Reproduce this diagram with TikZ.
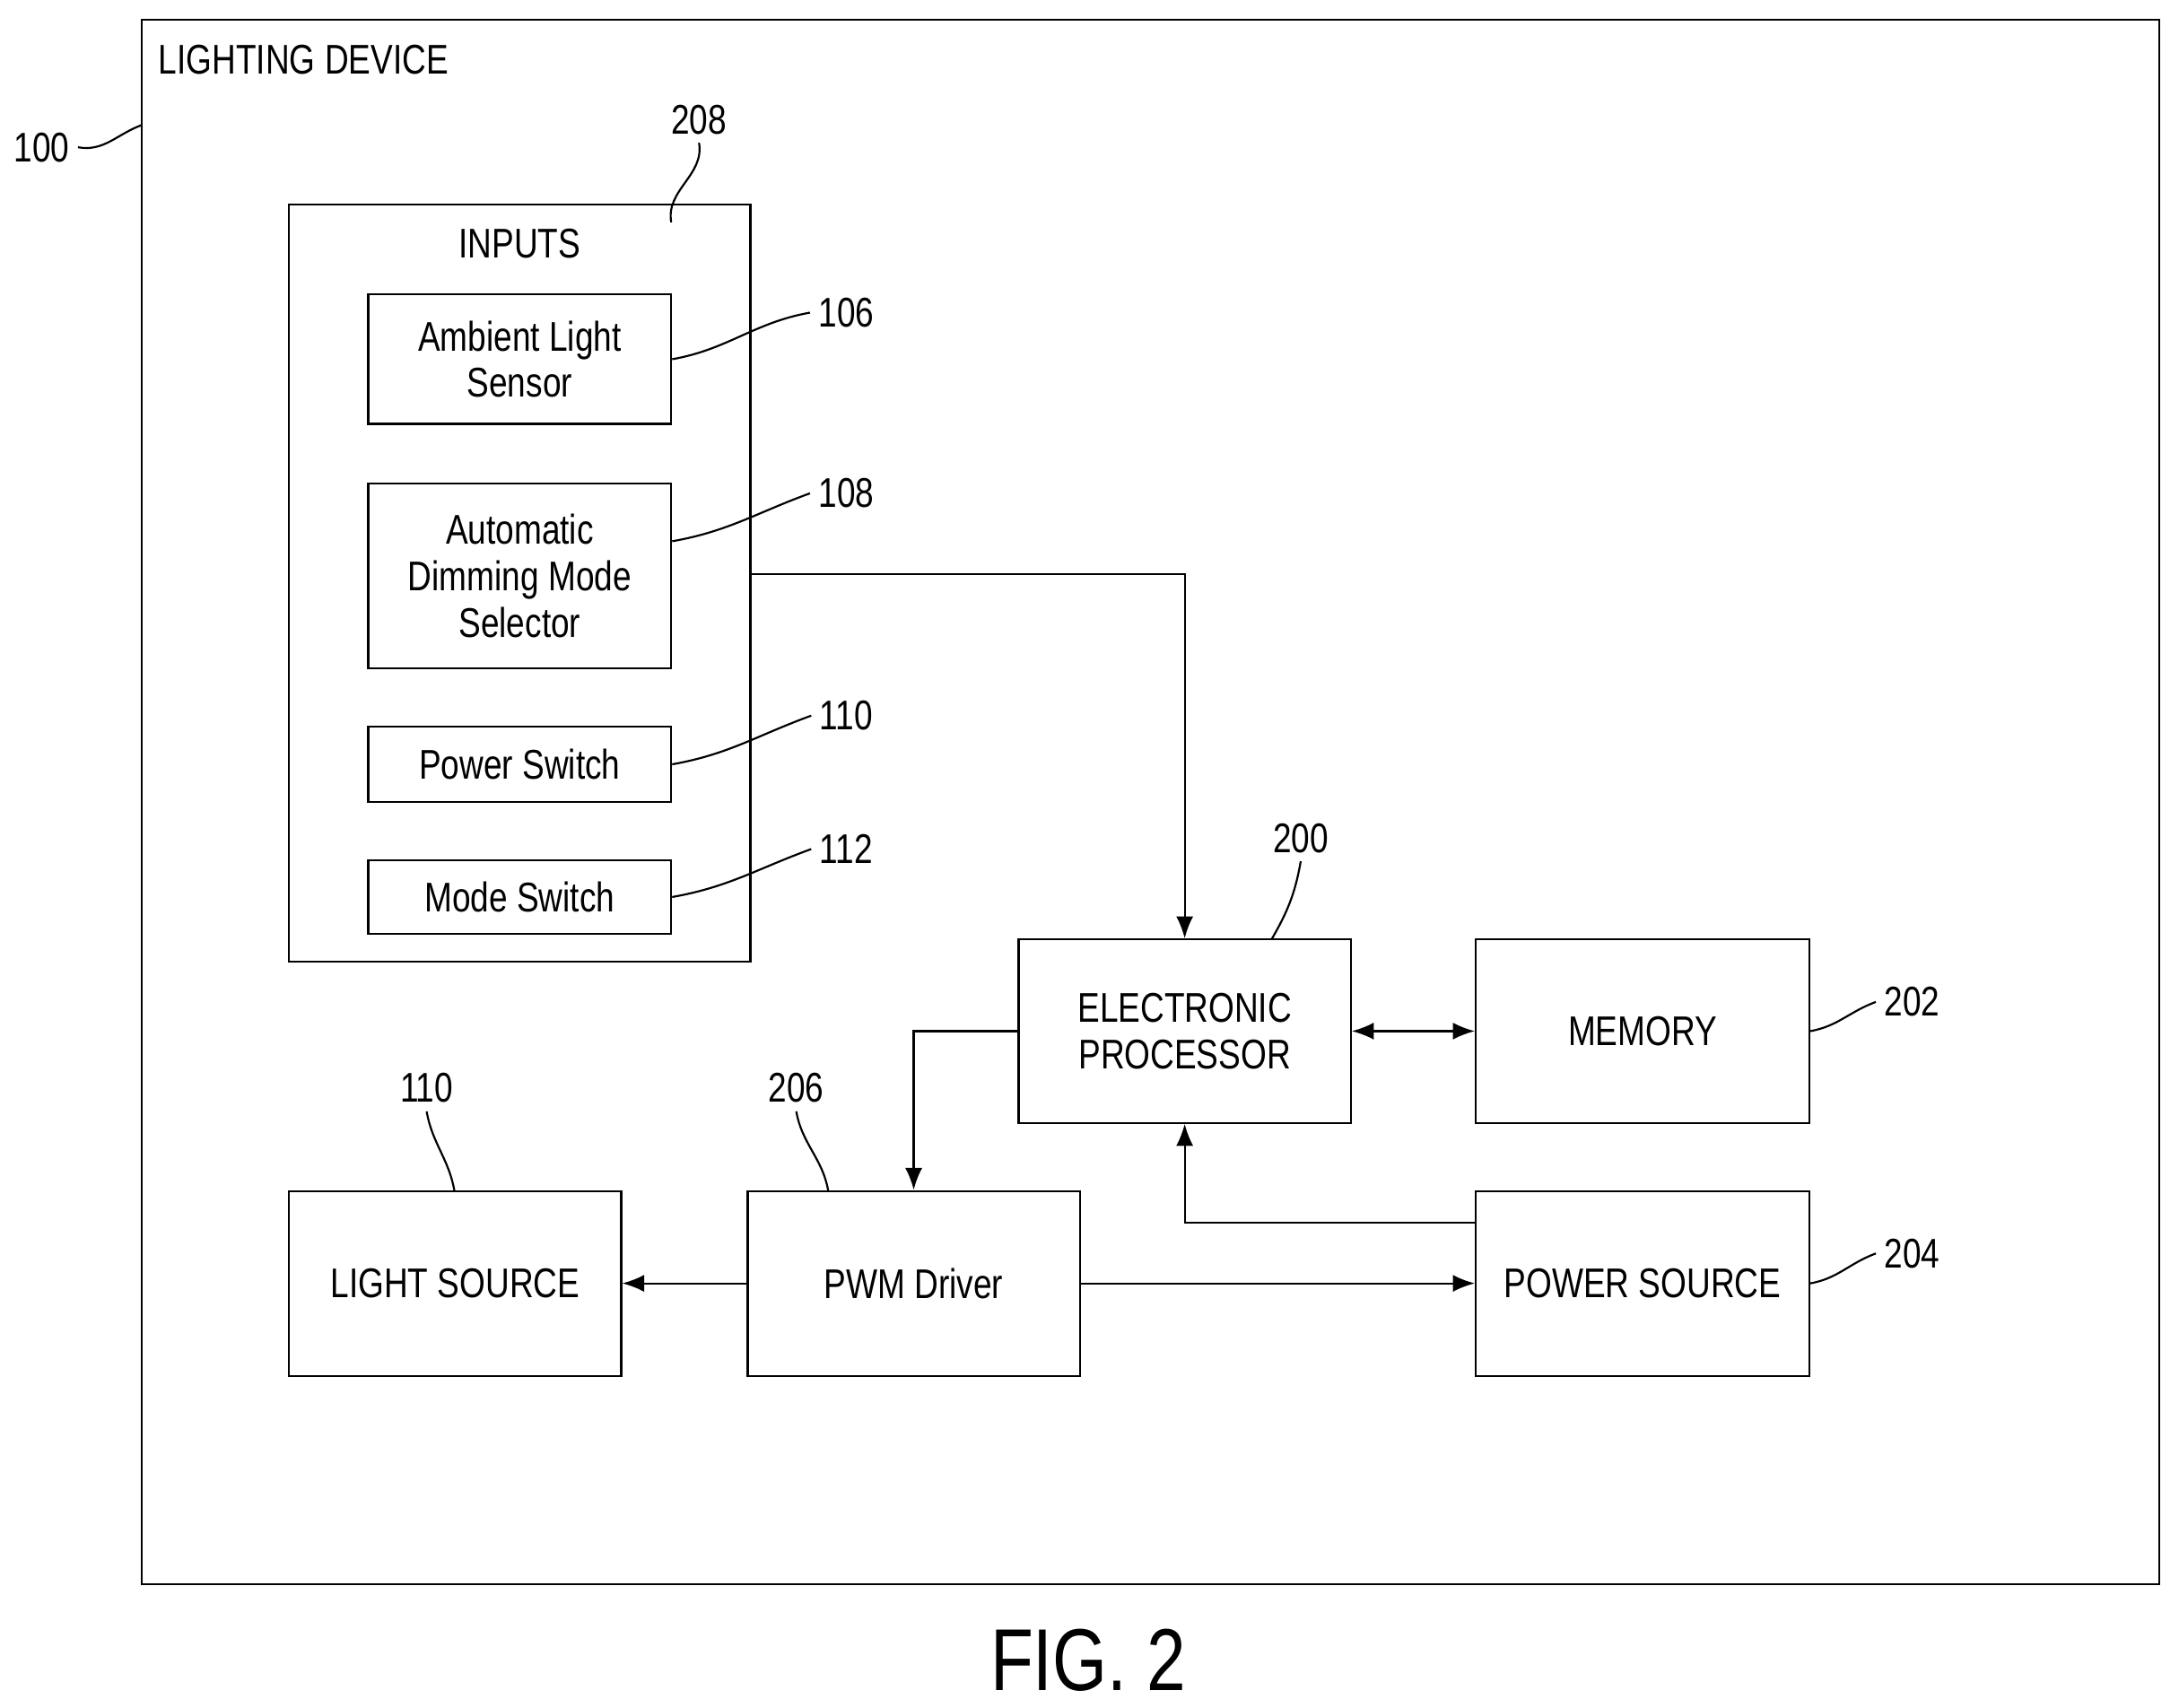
\documentclass[tikz,border=0pt]{standalone}
\usepackage{fontspec}
\setmainfont{Liberation Sans}[FakeStretch=0.8]
\usetikzlibrary{positioning,arrows.meta}
\tikzset{%
  block/.style  = {draw, thick, rectangle, align=center, inner sep=0pt,
    font=\fontsize{17}{19}\selectfont},
  label/.style  = {font=\fontsize{17}{19}\selectfont},
  leader/.style = {thick},
  link/.style   = {thick, -{Latex[length=9pt,width=7pt]}},
  dlink/.style  = {thick, {Latex[length=9pt,width=7pt]}-{Latex[length=9pt,width=7pt]}}
}
\begin{document}
\begin{tikzpicture}[x=0.2mm, y=-0.2mm]
        \useasboundingbox (0,0) rectangle (1568,1229);
        % frame of the device
        \draw[thick] (102,14) rectangle (1554,1140);
        \node[label, anchor=west] (title) at (108,43) {LIGHTING DEVICE};
        \node[label] (n100) at (30,106) {100};
        \draw[leader] (n100.east) to[out=-10,in=200] (102,90);

        % inputs group
        \node[block, minimum width=332*0.2mm, minimum height=545*0.2mm] (inputs) at (374,419.5) {};
        \node[label] (inlabel) at (374,175) {INPUTS};
        \node[label] (n208) at (503,86) {208};
        \draw[leader] (n208.south) to[out=-80,in=100] (483,160);

        \node[block, minimum width=218*0.2mm, minimum height=93*0.2mm] (als) at (374,258.5) {Ambient Light\\Sensor};
        \node[block, minimum width=218*0.2mm, minimum height=133*0.2mm] (adms) at (374,414.5) {Automatic\\Dimming Mode\\Selector};
        \node[block, minimum width=218*0.2mm, minimum height=54*0.2mm] (psw) at (374,550) {Power Switch};
        \node[block, minimum width=218*0.2mm, minimum height=53*0.2mm] (msw) at (374,645.5) {Mode Switch};

        \node[label] (n106) at (609,225) {106};
        \node[label] (n108) at (609,355) {108};
        \node[label] (n110a) at (609,515) {110};
        \node[label] (n112) at (609,611) {112};
        \draw[leader] (als.east) to[out=10,in=190] (n106.west);
        \draw[leader] (adms.east) ++(0,-25) to[out=10,in=200] (n108.west);
        \draw[leader] (psw.east) to[out=10,in=200] (n110a.west);
        \draw[leader] (msw.east) to[out=10,in=200] (n112.west);

        % main blocks
        \node[block, minimum width=239*0.2mm, minimum height=132*0.2mm] (proc) at (852.5,742) {ELECTRONIC\\PROCESSOR};
        \node[block, minimum width=240*0.2mm, minimum height=132*0.2mm] (mem) at (1182,742) {MEMORY};
        \node[block, minimum width=239*0.2mm, minimum height=133*0.2mm] (light) at (327.5,923.5) {LIGHT SOURCE};
        \node[block, minimum width=239*0.2mm, minimum height=133*0.2mm] (pwm) at (657.5,923.5) {PWM Driver};
        \node[block, minimum width=240*0.2mm, minimum height=133*0.2mm] (power) at (1182,923.5) {POWER SOURCE};

        \node[label] (n200) at (936,603) {200};
        \node[label] (n202) at (1376,721) {202};
        \node[label] (n110b) at (307,783) {110};
        \node[label] (n206) at (573,783) {206};
        \node[label] (n204) at (1376,902) {204};
        \draw[leader] (n200.south) to[out=-100,in=60] (915,676);
        \draw[leader] (mem.east) to[out=10,in=200] (n202.west);
        \draw[leader] (n110b.south) to[out=-80,in=100] (327,857);
        \draw[leader] (n206.south) to[out=-80,in=100] (596,857);
        \draw[leader] (power.east) to[out=10,in=200] (n204.west);

        % connections
        \draw[link] (inputs.east |- 0,413) -| (proc.north);
        \draw[dlink] (proc.east) -- (mem.west);
        \draw[link] (proc.west) -| (pwm.north);
        \draw[link] (pwm.west) -- (light.east);
        \draw[link] (pwm.east) -- (power.west);
        \draw[link] (power.west |- 0,880) -| (proc.south);

        \node[font=\fontsize{36}{40}\selectfont] (fig) at (783,1195) {FIG. 2};
\end{tikzpicture}
\end{document}
